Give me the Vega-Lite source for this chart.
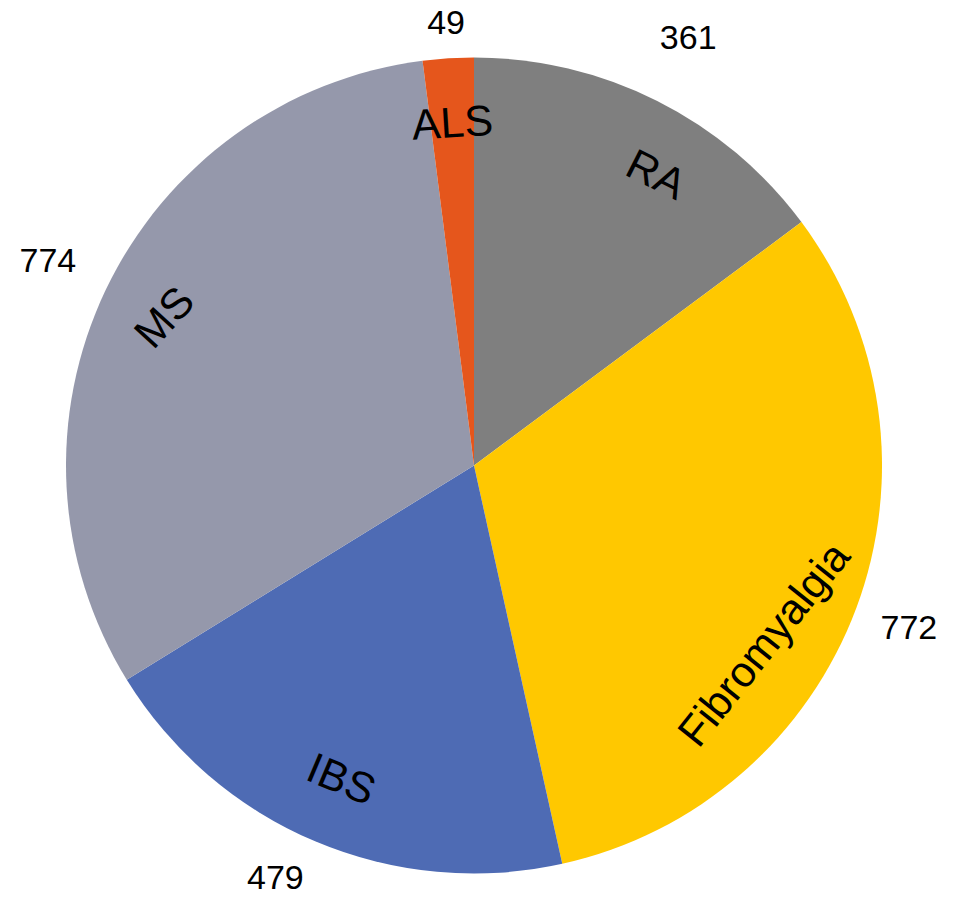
{
  "$schema": "https://vega.github.io/schema/vega-lite/v6.json",
  "width": 948,
  "height": 863,
  "autosize": "none",
  "padding": {"left": 0, "right": 13, "top": 34, "bottom": 0},
  "background": "white",
  "view": {"stroke": null},
  "data": {
    "values": [
      {"disease": "RA", "value": 361},
      {"disease": "Fibromyalgia", "value": 772},
      {"disease": "IBS", "value": 479},
      {"disease": "MS", "value": 774},
      {"disease": "ALS", "value": 49}
    ]
  },
  "transform": [
    {"window": [{"op": "row_number", "as": "idx"}]},
    {"joinaggregate": [{"op": "sum", "field": "value", "as": "total"}]},
    {"window": [{"op": "sum", "field": "value", "as": "cum"}], "sort": [{"field": "idx"}], "frame": [null, 0]},
    {"calculate": "(datum.cum - datum.value/2)/datum.total*360", "as": "mid"},
    {"calculate": "datum.mid > 270 ? datum.mid - 360 : (datum.mid > 90 ? datum.mid - 180 : datum.mid)", "as": "ang0"},
    {"calculate": "abs(datum.ang0) > 45 ? datum.ang0*0.74 : datum.ang0", "as": "ang"},
    {"calculate": "datum.mid + 12*max(0, sin(datum.mid*PI/180))", "as": "lt"},
    {"calculate": "datum.mid + 3.5*pow(max(0, -cos(datum.mid*PI/180)), 3)", "as": "vt"},
    {"calculate": "468 + 10*cos(datum.mid*PI/180) - 36*(3 - length(toString(datum.value)))", "as": "lr"}
  ],
  "layer": [
    {
      "mark": {"type": "arc", "outerRadius": 408},
      "encoding": {
        "theta": {"field": "value", "type": "quantitative", "stack": true},
        "order": {"field": "idx", "type": "quantitative"},
        "color": {
          "field": "disease",
          "type": "nominal",
          "scale": {
            "domain": ["RA", "Fibromyalgia", "IBS", "MS", "ALS"],
            "range": ["#7f7f7f", "#ffc800", "#4e6bb4", "#9598ab", "#e5561c"]
          },
          "legend": null
        }
      }
    },
    {
      "mark": {"type": "text", "radius": 342, "font": "Liberation Sans", "fontSize": 43, "align": "center", "baseline": "middle", "color": "black"},
      "encoding": {
        "theta": {"field": "lt", "type": "quantitative", "stack": null, "scale": {"domain": [0, 360], "range": [0, 6.283185307179586]}},
        "text": {"field": "disease"},
        "angle": {"field": "ang", "type": "quantitative", "scale": null}
      }
    },
    {
      "mark": {"type": "text", "font": "Liberation Sans", "fontSize": 34, "align": "center", "baseline": "middle", "color": "black"},
      "encoding": {
        "theta": {"field": "vt", "type": "quantitative", "stack": null, "scale": {"domain": [0, 360], "range": [0, 6.283185307179586]}},
        "text": {"field": "value"},
        "radius": {"field": "lr", "type": "quantitative", "scale": null}
      }
    }
  ],
  "resolve": {"scale": {"theta": "independent", "radius": "independent"}}
}
